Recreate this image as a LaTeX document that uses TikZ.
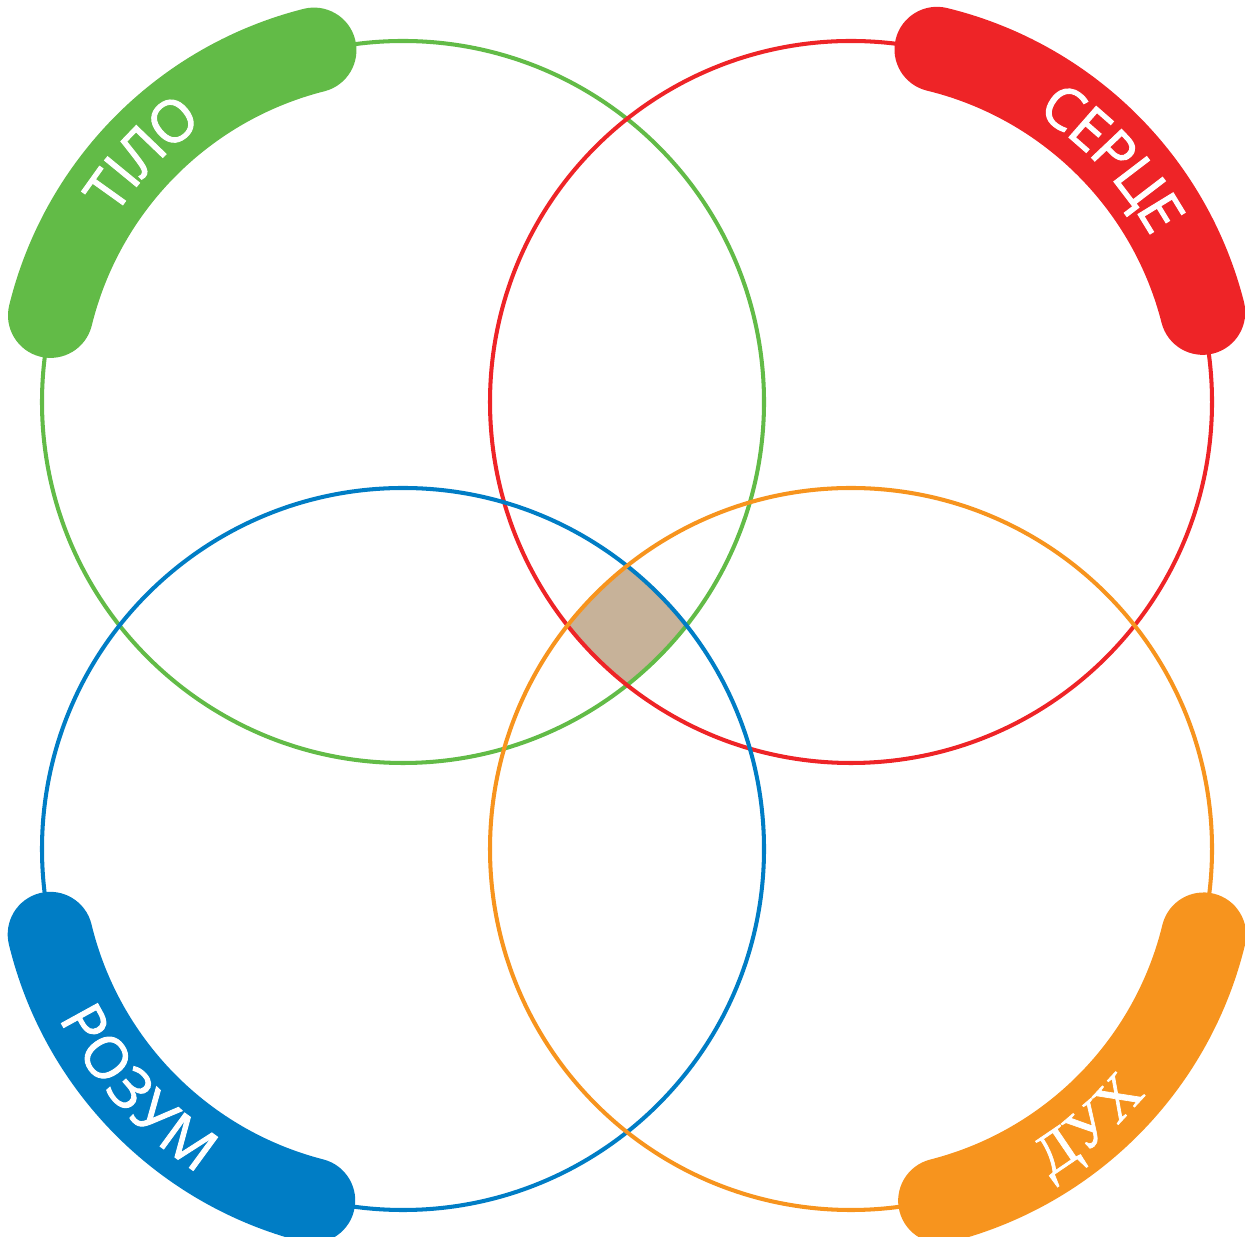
\documentclass[tikz,border=0pt]{standalone}
\usepackage{fontspec}
\setmainfont{Liberation Serif}
\setsansfont{Open Sans}
\newfontface\lblface{Open Sans}[FakeBold=1.6]
\newfontface\lblserif{Liberation Serif}[FakeBold=1.2]
\usetikzlibrary{decorations.text}
\definecolor{tilocol}{HTML}{62BB47}
\definecolor{sercecol}{HTML}{EE2427}
\definecolor{rozumcol}{HTML}{007DC5}
\definecolor{duhcol}{HTML}{F7941E}
\definecolor{corecol}{HTML}{C7B299}
\newcommand{\lblsf}{\lblface\fontsize{16.5}{16.5}\selectfont\color{white}}
\newcommand{\lblrm}{\lblserif\fontsize{16.5}{16.5}\selectfont\color{white}}

\begin{document}
\begin{tikzpicture}[ring/.style={line width=1.15pt},
  band/.style={line width=0.85cm, line cap=round},
  lbl/.style={decorate, decoration={text along path, text align=center, raise=-5.8pt, text={#1}}}]
\useasboundingbox (0,0) rectangle (12.45,12.36);

\coordinate (tilo) at (4.03,8.34);
\coordinate (serce) at (8.51,8.34);
\coordinate (rozum) at (4.03,3.87);
\coordinate (duh) at (8.51,3.87);

\begin{scope}
\clip (tilo) circle[radius=3.61];
\clip (serce) circle[radius=3.61];
\clip (rozum) circle[radius=3.61];
\fill[corecol] (duh) circle[radius=3.61];
\end{scope}

\foreach \c/\col in {tilo/tilocol,serce/sercecol,rozum/rozumcol,duh/duhcol}
\draw[ring,\col] (\c) circle[radius=3.61];

\foreach \c/\col/\a in {tilo/tilocol/104.2,serce/sercecol/14.3,rozum/rozumcol/193.6,duh/duhcol/284.3}
\draw[band,\col] (\c) ++(\a:3.63) arc[start angle=\a, delta angle=62, radius=3.63];

\path[lbl={|\lblsf|ТІЛО}] (tilo) ++(166.4:3.63) arc[start angle=166.4, end angle=106.4, radius=3.63];
\path[lbl={|\lblsf|СЕРЦЕ}] (serce) ++(73:3.63) arc[start angle=73, end angle=13, radius=3.63];
\path[lbl={|\lblsf|РОЗУМ}] (rozum) ++(192:3.63) arc[start angle=192, end angle=252, radius=3.63];
\path[lbl={|\lblrm|ДУХ}] (duh) ++(280.7:3.63) arc[start angle=280.7, end angle=340.7, radius=3.63];
\end{tikzpicture}
\end{document}
